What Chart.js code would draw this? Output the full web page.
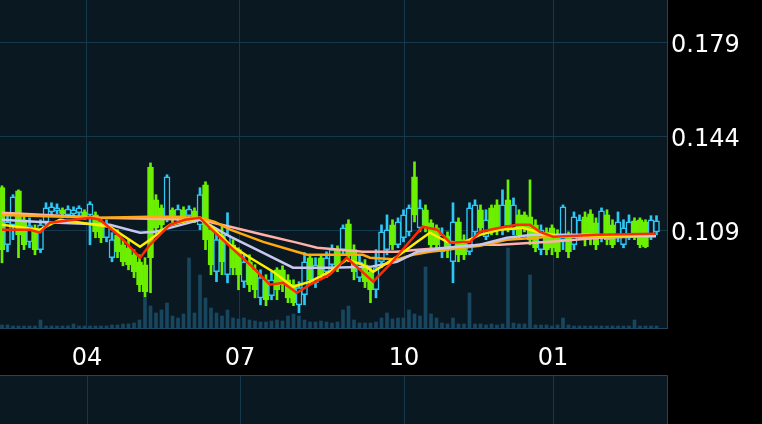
<!DOCTYPE html>
<html>
<head>
<meta charset="utf-8">
<script src="https://cdn.jsdelivr.net/npm/chart.js@4.4.1/dist/chart.umd.min.js"></script>
<style>
  html, body { margin: 0; padding: 0; background: #000; }
  #wrap { width: 762px; height: 424px; }
</style>
</head>
<body>
<div id="wrap"><canvas id="kchart" width="762" height="424"></canvas></div>
<script>
// daily-ish candles
var openP = [
  .1250,.1038,.1112,.1238,.1131,.1049,.1094,.1020,.1123,.1160,
  .1164,.1168,.1149,.1153,.1157,.1160,.1149,.1149,.1123,.1064,
  .0990,.1075,.1038,.1027,.1001,.0975,.0964,.1327,.1205,.1175,
  .1142,.1168,.1142,.1168,.1146,.1164,.1112,.1261,.1094,.0938,
  .1075,.0927,.1038,.1020,.0901,.0975,.0945,.0841,.0908,.0849,
  .0945,.0945,.0908,.0890,.0815,.0853,.0990,.0897,.0990,.0938,
  .0964,.1020,.1020,.1116,.1020,.0916,.0964,.0938,.0871,.0975,
  .1020,.1112,.1038,.1064,.1086,.1290,.1101,.1168,.1120,.1101,
  .1012,.1071,.0975,.1123,.1057,.1012,.1086,.1168,.1068,.1175,
  .1186,.1094,.1205,.1094,.1149,.1149,.1142,.1112,.1020,.1086,
  .1101,.1075,.1057,.1064,.1038,.1071,.1142,.1153,.1120,.1068,
  .1149,.1112,.1064,.1038,.1071,.1127,.1131,.1123,.1075,.1086
];
var highP = [
  .1257,.1149,.1224,.1242,.1149,.1138,.1112,.1131,.1194,.1194,
  .1190,.1175,.1183,.1179,.1183,.1168,.1198,.1160,.1138,.1131,
  .1083,.1094,.1057,.1057,.1020,.1001,.0990,.1342,.1224,.1186,
  .1298,.1175,.1186,.1179,.1183,.1175,.1250,.1272,.1112,.1094,
  .1112,.1157,.1057,.1027,.1001,.1001,.0964,.0945,.0927,.0938,
  .0953,.0960,.0927,.0908,.0901,.1009,.1001,.0990,.1001,.1012,
  .1038,.1034,.1112,.1131,.1038,.1001,.0983,.0953,.1020,.1112,
  .1149,.1131,.1138,.1168,.1186,.1346,.1205,.1186,.1131,.1112,
  .1101,.1086,.1194,.1138,.1075,.1194,.1205,.1186,.1168,.1186,
  .1205,.1242,.1279,.1212,.1168,.1160,.1279,.1131,.1112,.1101,
  .1112,.1094,.1186,.1086,.1160,.1149,.1160,.1168,.1138,.1175,
  .1168,.1131,.1160,.1131,.1149,.1138,.1138,.1131,.1146,.1146
];
var lowP = [
  .0971,.1012,.1057,.0990,.1020,.1027,.1001,.1009,.1109,.1149,
  .1153,.1138,.1138,.1146,.1138,.1131,.1038,.1064,.1046,.1049,
  .0975,.0990,.0960,.0945,.0916,.0864,.0845,.0860,.1075,.1086,
  .1123,.1112,.1127,.1123,.1131,.1120,.1094,.1020,.0927,.0901,
  .0927,.0897,.0927,.0871,.0879,.0864,.0841,.0815,.0812,.0834,
  .0834,.0864,.0823,.0812,.0786,.0815,.0890,.0879,.0908,.0916,
  .0945,.0938,.1001,.0975,.0908,.0901,.0879,.0823,.0841,.0953,
  .1001,.1020,.1027,.1049,.1071,.1123,.1086,.1086,.1020,.1012,
  .0990,.0990,.0897,.0975,.0983,.1001,.1071,.1086,.1057,.1075,
  .1075,.1075,.1086,.1075,.1057,.1086,.1038,.1012,.1001,.1001,
  .1001,.0990,.1020,.0990,.1020,.1057,.1034,.1038,.1020,.1049,
  .1038,.1027,.1049,.1027,.1057,.1057,.1027,.1027,.1057,.1075
];
var closeP = [
  .1020,.1123,.1216,.1075,.1038,.1109,.1020,.1112,.1175,.1179,
  .1175,.1153,.1171,.1168,.1175,.1138,.1190,.1086,.1064,.1112,
  .1057,.1012,.0975,.0964,.0938,.0890,.0864,.0990,.1101,.1112,
  .1290,.1131,.1171,.1138,.1171,.1134,.1224,.1057,.0964,.1057,
  .0975,.1075,.0953,.0927,.0975,.0890,.0871,.0916,.0834,.0908,
  .0871,.0890,.0841,.0823,.0879,.0975,.0908,.0964,.0927,.0990,
  .1020,.0953,.1101,.1001,.0938,.0975,.0901,.0871,.0953,.1086,
  .1094,.1038,.1123,.1149,.1175,.1149,.1175,.1101,.1038,.1038,
  .1075,.1020,.1123,.1001,.1001,.1175,.1186,.1101,.1131,.1094,
  .1094,.1186,.1112,.1186,.1075,.1101,.1057,.1027,.1094,.1020,
  .1027,.1012,.1179,.1012,.1142,.1131,.1057,.1064,.1038,.1164,
  .1057,.1038,.1123,.1101,.1123,.1071,.1038,.1031,.1131,.1127
];
var volume = [
  30,30,20,20,20,20,20,80,20,20, 20,20,20,40,20,20,20,20,20,20,
  30,30,40,40,50,80,310,220,150,180, 250,120,100,140,700,150,530,300,200,150,
  120,180,100,90,100,80,70,60,60,70, 80,70,120,140,120,80,60,60,70,60,
  50,60,180,220,80,50,50,50,60,100, 150,90,100,100,180,140,120,610,140,100,
  50,40,100,40,40,350,40,40,30,40, 30,40,800,50,40,40,530,30,30,30,
  20,30,100,30,20,20,20,20,20,20, 20,20,20,20,20,80,20,20,20,20
];

// moving average lines: [candle index, price]
var ma5 = [[0,.1094],[5.1,.1094],[6.9,.1083],[8.7,.1120],[16,.1138],[17.8,.1131],[21.5,.1068],[25.1,.0990],
  [26.9,.1038],[30.5,.1112],[33.3,.1131],[36,.1138],[37.8,.1101],[41.5,.1031],[45.1,.0964],[48.7,.0890],
  [51.1,.0897],[53.6,.0860],[56,.0890],[59.6,.0927],[62.7,.0990],[64.5,.0956],[67.5,.0901],[70.5,.0964],
  [73.6,.1038],[76.5,.1105],[79.1,.1094],[81.5,.1046],[85.1,.1049],[86.9,.1086],[90.5,.1101],[93.6,.1112],
  [96,.1112],[97.8,.1086],[100.2,.1068],[108.7,.1075],[118.9,.1079]];
var ma10 = [[0,.1112],[6.9,.1094],[10.5,.1131],[19.6,.1105],[25.1,.1031],[26.9,.1057],[30.5,.1112],[36,.1138],
  [38.7,.1094],[41.5,.1038],[45.1,.0990],[49.3,.0938],[52.9,.0882],[56,.0901],[59.6,.0938],[62.7,.0983],
  [65.6,.0964],[67.5,.0938],[71.8,.0994],[75.5,.1049],[77.8,.1083],[80.9,.1049],[83.8,.1046],[86.9,.1075],
  [90.5,.1094],[94.7,.1101],[97.8,.1083],[101.5,.1068],[118.9,.1075]];
var ma20 = [[0,.1131],[6.9,.1123],[19.6,.1112],[25.1,.1083],[27.8,.1086],[36,.1131],[38.7,.1101],[41.5,.1068],
  [47.5,.1008],[52.9,.0953],[59.6,.0953],[66.9,.0956],[71.8,.0975],[75.5,.1012],[80.9,.1027],[86.9,.1038],
  [91.8,.1064],[96.5,.1075],[105.6,.1075],[118.9,.1071]];
var ma30 = [[0,.1149],[17.8,.1138],[26.9,.1142],[36,.1138],[38.7,.1123],[41.5,.1094],[47.5,.1049],[53.6,.1012],
  [55.5,.1001],[65.6,.1001],[66.9,.0990],[71.8,.0983],[74.7,.1001],[77.8,.1012],[86.9,.1034],[91.8,.1057],
  [99.6,.1068],[118.9,.1071]];
var ma60 = [[0,.1157],[17.8,.1138],[36,.1131],[41.5,.1105],[47.5,.1075],[53.6,.1046],[57.3,.1027],[65.6,.1012],
  [71.8,.1012],[75.5,.1020],[80.9,.1027],[86.9,.1038],[90.5,.1038],[99.6,.1049],[108.7,.1064],[118.9,.1071]];

var tickPos = [15.45, 43.27, 73.1, 100.2];
var tickLabels = ['04', '07', '10', '01'];
var priceTicks = [0.109, 0.144, 0.179];

var upColor = '#2ec8f6';
var downColor = '#6cf000';
var panelBg = '#0a1821';
var gridColor = '#16384c';
var borderColor = '#1c4760';

var idx = openP.map(function(v, i){ return i; });
var candleColor = idx.map(function(i){ return closeP[i] >= openP[i] ? upColor : downColor; });
var bodyFill = idx.map(function(i){ return closeP[i] >= openP[i] ? panelBg : downColor; });

function toPoints(arr){
  return arr.map(function(p){ return {x: p[0], y: p[1]}; });
}
function maLine(arr, color, order){
  return {
    type: 'line', data: toPoints(arr), borderColor: color, borderWidth: 2.5,
    pointRadius: 0, tension: 0, yAxisID: 'y', order: order
  };
}

var bgPlugin = {
  id: 'panels',
  beforeDraw: function(chart){
    var ctx = chart.ctx, a = chart.chartArea;
    var xs = chart.scales.x;
    ctx.save();
    ctx.fillStyle = '#000';
    ctx.fillRect(0, 0, chart.width, chart.height);
    ctx.fillStyle = panelBg;
    ctx.fillRect(a.left, a.top, a.right - a.left, a.bottom - a.top);
    // lower (empty) indicator panel
    var top2 = a.bottom + 47;
    ctx.fillRect(a.left, top2, a.right - a.left, chart.height - top2);
    ctx.lineWidth = 1;
    ctx.strokeStyle = gridColor;
    tickPos.forEach(function(v){
      var px = Math.round(xs.getPixelForValue(v)) + 0.5;
      ctx.beginPath(); ctx.moveTo(px, top2); ctx.lineTo(px, chart.height); ctx.stroke();
    });
    ctx.strokeStyle = borderColor;
    ctx.beginPath();
    ctx.moveTo(a.left, top2 + 0.5); ctx.lineTo(a.right + 0.5, top2 + 0.5);
    ctx.lineTo(a.right + 0.5, chart.height);
    ctx.stroke();
    ctx.restore();
  }
};

var ctx = document.getElementById('kchart');
var kChart = new Chart(ctx, {
  type: 'bar',
  data: {
    datasets: [
      maLine(ma5, '#ff2a00', 1),
      maLine(ma10, '#ffee00', 2),
      maLine(ma20, '#c8c8ee', 3),
      maLine(ma30, '#ffaa10', 4),
      maLine(ma60, '#ffb0a8', 5),
      {
        data: idx.map(function(i){ return {x: i, y: [openP[i], closeP[i]]}; }),
        backgroundColor: bodyFill, borderColor: candleColor, borderWidth: 1.5,
        borderSkipped: false, barThickness: 6, grouped: false, yAxisID: 'y', order: 8
      },
      {
        data: idx.map(function(i){ return {x: i, y: [lowP[i], highP[i]]}; }),
        backgroundColor: candleColor, borderWidth: 0,
        barThickness: 2, grouped: false, yAxisID: 'y', order: 9
      },
      {
        data: idx.map(function(i){ return {x: i, y: volume[i]}; }),
        backgroundColor: '#19465f', borderWidth: 0,
        barThickness: 3, grouped: false, yAxisID: 'yv', order: 10
      }
    ]
  },
  options: {
    responsive: false,
    animation: false,
    devicePixelRatio: 1,
    layout: { padding: 0 },
    plugins: { legend: { display: false }, tooltip: { enabled: false } },
    scales: {
      x: {
        type: 'linear', offset: false,
        min: -0.364, max: 120.91,
        afterFit: function(s){ s.height = 96; s.paddingLeft = 0; s.paddingRight = 0; },
        afterBuildTicks: function(s){ s.ticks = tickPos.map(function(v){ return {value: v}; }); },
        ticks: {
          color: '#ffffff', padding: 16, maxRotation: 0, autoSkip: false,
          font: { family: 'DejaVu Sans', size: 24 },
          callback: function(v, i){ return tickLabels[i]; }
        },
        grid: { color: gridColor, drawTicks: false, offset: false },
        border: { display: true, color: borderColor }
      },
      y: {
        type: 'linear', position: 'right',
        min: 0.0729, max: 0.1947,
        afterFit: function(s){ s.width = 95; s.paddingTop = 0; s.paddingBottom = 0; },
        afterBuildTicks: function(s){ s.ticks = priceTicks.map(function(v){ return {value: v}; }); },
        ticks: {
          color: '#ffffff', padding: 4, labelOffset: 3,
          font: { family: 'DejaVu Sans', size: 24 },
          callback: function(v){ return v.toFixed(3); }
        },
        grid: { color: gridColor, drawTicks: false },
        border: { display: true, color: borderColor }
      },
      yv: {
        type: 'linear', display: false, min: 0, max: 3280
      }
    }
  },
  plugins: [bgPlugin]
});
</script>
</body>
</html>
